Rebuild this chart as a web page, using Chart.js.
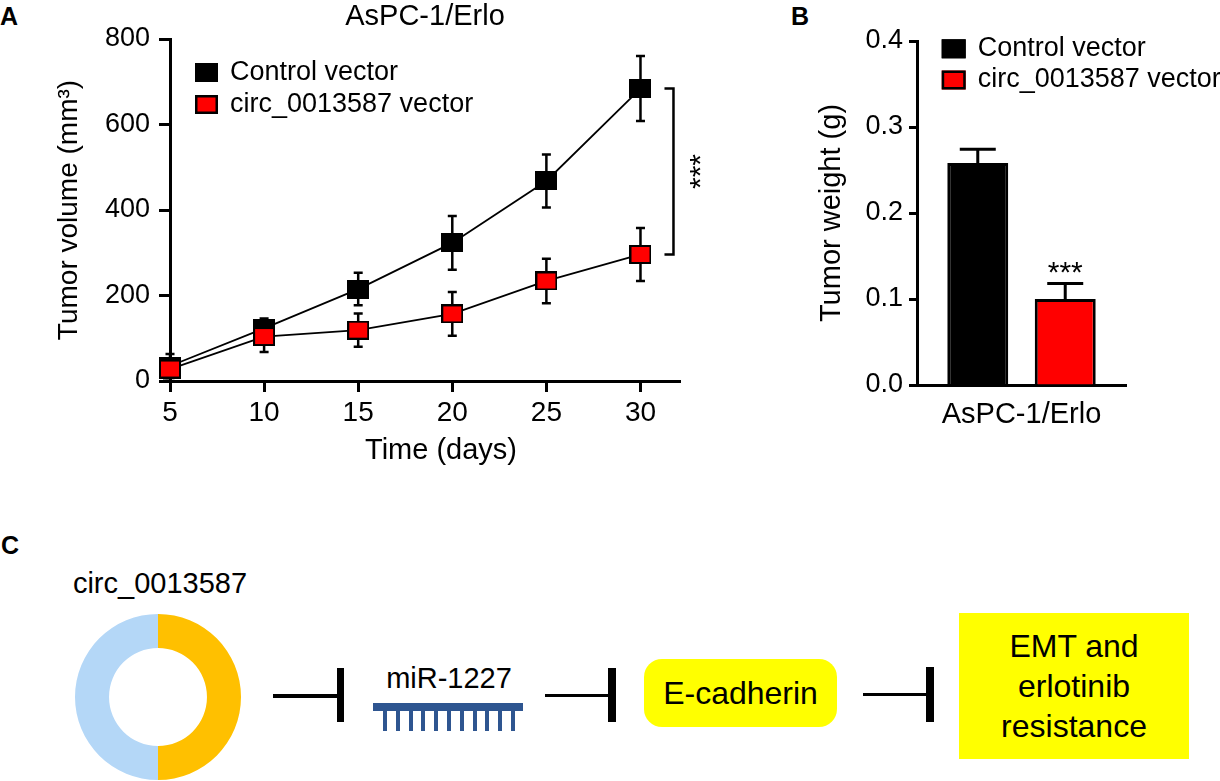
<!DOCTYPE html>
<html>
<head>
<meta charset="utf-8">
<title>circ_0013587 and erlotinib resistance</title>
<script src="https://cdn.jsdelivr.net/npm/chart.js@4.4.1/dist/chart.umd.min.js"></script>
<style>
  body { margin: 0; width: 1220px; height: 781px; background: #fff; position: relative; overflow: hidden;
         font-family: "Liberation Sans", Arial, Helvetica, sans-serif; color: #000; }
  canvas { position: absolute; }
  .panel { position: absolute; font-weight: bold; font-size: 25px; line-height: 25px; }
  .txt { position: absolute; transform: translate(-50%, -50%); line-height: 1; white-space: nowrap; }
  .blk { position: absolute; background: #000; }
  .tooth { position: absolute; background: #2e5590; width: 4px; height: 20px; top: 711px; }
  .box { position: absolute; background: #ffff00; display: flex; align-items: center; justify-content: center;
         text-align: center; font-size: 32px; }
</style>
</head>
<body>

<div class="panel" style="left:0px;top:4px">A</div>
<div class="panel" style="left:791px;top:4px">B</div>
<div class="panel" style="left:1px;top:533px">C</div>

<canvas id="volumeChart" width="720" height="480" style="left:0;top:0"></canvas>
<canvas id="weightChart" width="420" height="480" style="left:800px;top:0"></canvas>
<canvas id="circChart" width="166" height="166" style="left:75px;top:614px"></canvas>

<!-- Panel C pathway -->
<div class="txt" style="left:160px;top:583px;font-size:29px">circ_0013587</div>

<div class="blk" style="left:273px;top:694px;width:70px;height:3.5px"></div>
<div class="blk" style="left:337px;top:668px;width:7px;height:54px"></div>

<div class="txt" style="left:449px;top:678px;font-size:29px">miR-1227</div>
<div style="position:absolute;left:373px;top:703px;width:150px;height:8px;background:#2e5590"></div>
<div id="teeth"></div>

<div class="blk" style="left:545px;top:693.5px;width:70px;height:3.5px"></div>
<div class="blk" style="left:608px;top:668px;width:8px;height:54px"></div>

<div class="box" style="left:644px;top:659px;width:193px;height:68px;border-radius:18px;line-height:1">E-cadherin</div>

<div class="blk" style="left:863px;top:692.5px;width:70px;height:3.5px"></div>
<div class="blk" style="left:926px;top:667px;width:8px;height:55px"></div>

<div class="box" style="left:959px;top:613px;width:230px;height:146px;line-height:40px">EMT and<br>erlotinib<br>resistance</div>

<script>
// Panel A: tumor volume (mm3) by day
const days = [5, 10, 15, 20, 25, 30];
const volumeControl = [35, 123, 215, 323, 468, 684];
const volumeControlErr = [28, 23, 38, 63, 62, 76];
const volumeCirc = [28, 104, 119, 157, 234, 296];
const volumeCircErr = [20, 36, 39, 51, 52, 62];
const volumeTicks = [0, 200, 400, 600, 800];

// Panel B: tumor weight (g)
const weightGroups = ['AsPC-1/Erlo'];
const weightControl = [0.258];
const weightControlErr = [0.016];
const weightCirc = [0.100];
const weightCircErr = [0.018];
const weightTicks = [0, 0.1, 0.2, 0.3, 0.4];

// Panel C: circRNA ring, two halves
const circSegments = [50, 50];
const circColors = ['#ffc000', '#b4d7f7'];

const seriesNames = ['Control vector', 'circ_0013587 vector'];
const seriesColors = ['#000000', '#ff0000'];

const FONT = '"Liberation Sans", Arial, Helvetica, sans-serif';
Chart.defaults.font.family = FONT;
Chart.defaults.color = '#000';

// miRNA teeth
const teeth = document.getElementById('teeth');
for (let i = 0; i < 11; i++) {
    const t = document.createElement('div');
    t.className = 'tooth';
    t.style.left = (383 + i * 12.8) + 'px';
    teeth.appendChild(t);
}

// Rectangular marker used for the time-course points
function makeMarker(fill) {
    const c = document.createElement('canvas');
    c.width = 22;
    c.height = 19;
    const g = c.getContext('2d');
    g.fillStyle = fill;
    g.fillRect(0, 0, 22, 19);
    g.strokeStyle = '#000';
    g.lineWidth = 2;
    g.strokeRect(1, 1, 20, 17);
    return c;
}

function drawLegend(ctx, x, rows, w, h, textX) {
    ctx.save();
    ctx.font = '27px ' + FONT;
    ctx.textAlign = 'left';
    ctx.textBaseline = 'middle';
    rows.forEach((cy, i) => {
        ctx.fillStyle = seriesColors[i];
        ctx.fillRect(x, cy - h / 2, w, h);
        ctx.strokeStyle = '#000';
        ctx.lineWidth = 2.5;
        ctx.strokeRect(x + 1.25, cy - h / 2 + 1.25, w - 2.5, h - 2.5);
        ctx.fillStyle = '#000';
        ctx.fillText(seriesNames[i], textX, cy);
    });
    ctx.restore();
}

// Error bars for the line chart (drawn under the markers)
const volumeErrorBars = {
    id: 'volumeErrorBars',
    beforeDatasetsDraw(chart) {
        const { ctx, scales: { x, y } } = chart;
        ctx.save();
        ctx.strokeStyle = '#000';
        ctx.lineWidth = 2.5;
        chart.data.datasets.forEach(ds => {
            ds.data.forEach((p, i) => {
                const px = x.getPixelForValue(p.x);
                const top = y.getPixelForValue(p.y + ds.errors[i]);
                const bot = y.getPixelForValue(p.y - ds.errors[i]);
                ctx.beginPath();
                ctx.moveTo(px, top); ctx.lineTo(px, bot);
                ctx.moveTo(px - 4.5, top); ctx.lineTo(px + 4.5, top);
                ctx.moveTo(px - 4.5, bot); ctx.lineTo(px + 4.5, bot);
                ctx.stroke();
            });
        });
        ctx.restore();
    }
};

// Axis title, significance bracket and legend of panel A
const volumeDecor = {
    id: 'volumeDecor',
    afterDraw(chart) {
        const { ctx, chartArea, scales: { x, y } } = chart;
        const last = days.length - 1;
        ctx.save();
        ctx.fillStyle = '#000';
        ctx.fillRect(chartArea.left - 7, chartArea.bottom - 1.5, 7, 3);

        ctx.font = '29px ' + FONT;
        ctx.textAlign = 'center';
        ctx.textBaseline = 'middle';
        ctx.fillText('Time (days)', 441, 451);

        const bx = x.getPixelForValue(days[last]);
        const yt = y.getPixelForValue(volumeControl[last]);
        const yb = y.getPixelForValue(volumeCirc[last]);
        ctx.strokeStyle = '#000';
        ctx.lineWidth = 2.5;
        ctx.beginPath();
        ctx.moveTo(bx + 24, yt);
        ctx.lineTo(bx + 33, yt);
        ctx.lineTo(bx + 33, yb);
        ctx.lineTo(bx + 24, yb);
        ctx.stroke();

        ctx.translate(bx + 70, (yt + yb) / 2);
        ctx.rotate(-Math.PI / 2);
        ctx.font = '30px ' + FONT;
        ctx.textBaseline = 'alphabetic';
        ctx.fillText('***', 0, 0);
        ctx.restore();

        drawLegend(ctx, 195, [72.5, 104.5], 23, 19, 230);
    }
};

new Chart(document.getElementById('volumeChart'), {
    type: 'line',
    data: {
        datasets: [
            {
                label: seriesNames[0],
                data: days.map((d, i) => ({ x: d, y: volumeControl[i] })),
                errors: volumeControlErr,
                borderColor: '#000',
                borderWidth: 1.8,
                pointStyle: makeMarker(seriesColors[0]),
                pointRadius: 11,
                tension: 0,
                clip: false,
                order: 1
            },
            {
                label: seriesNames[1],
                data: days.map((d, i) => ({ x: d, y: volumeCirc[i] })),
                errors: volumeCircErr,
                borderColor: '#000',
                borderWidth: 1.8,
                pointStyle: makeMarker(seriesColors[1]),
                pointRadius: 11,
                tension: 0,
                clip: false,
                order: 0
            }
        ]
    },
    options: {
        responsive: false,
        animation: false,
        events: [],
        layout: { padding: { left: 0, right: 40, top: 0, bottom: 0 } },
        plugins: {
            legend: { display: false },
            tooltip: { enabled: false },
            title: {
                display: true,
                text: 'AsPC-1/Erlo',
                fullSize: false,
                font: { size: 29, weight: 'normal' },
                color: '#000',
                padding: { top: 0, bottom: 4.2 }
            }
        },
        scales: {
            x: {
                type: 'linear',
                min: 5,
                max: 32.1,
                afterBuildTicks: s => { s.ticks = days.map(v => ({ value: v })); },
                afterFit: s => { s.height = 99; },
                ticks: { font: { size: 28 }, color: '#000', padding: 4 },
                grid: { drawOnChartArea: false, tickLength: 11, tickWidth: 3, tickColor: '#000' },
                border: { width: 3, color: '#000' }
            },
            y: {
                min: 0,
                max: 800,
                afterBuildTicks: s => { s.ticks = volumeTicks.map(v => ({ value: v })); },
                afterFit: s => { s.width = 170; },
                ticks: { font: { size: 27 }, color: '#000', padding: 9 },
                grid: { drawOnChartArea: false, tickLength: 11, tickWidth: 3, tickColor: '#000' },
                border: { width: 3, color: '#000' },
                title: {
                    display: true,
                    text: 'Tumor volume (mm³)',
                    font: { size: 28 },
                    color: '#000',
                    padding: { top: 52, bottom: 0 }
                }
            }
        }
    },
    plugins: [volumeErrorBars, volumeDecor]
});

// Upward-only error bars, stars and legend for panel B
const weightDecor = {
    id: 'weightDecor',
    afterDatasetsDraw(chart) {
        const { ctx, scales: { y } } = chart;
        ctx.save();
        ctx.strokeStyle = '#000';
        ctx.lineWidth = 3;
        chart.data.datasets.forEach((ds, di) => {
            chart.getDatasetMeta(di).data.forEach((bar, i) => {
                const top = y.getPixelForValue(ds.data[i] + ds.errors[i]);
                ctx.beginPath();
                ctx.moveTo(bar.x, bar.y);
                ctx.lineTo(bar.x, top);
                ctx.moveTo(bar.x - 18, top);
                ctx.lineTo(bar.x + 18, top);
                ctx.stroke();
                if (ds.stars) {
                    ctx.fillStyle = '#000';
                    ctx.font = '30px ' + FONT;
                    ctx.textAlign = 'center';
                    ctx.textBaseline = 'alphabetic';
                    ctx.fillText(ds.stars, bar.x, top - 2);
                }
            });
        });
        ctx.restore();
        drawLegend(ctx, 141.7, [48.8, 80], 24, 19, 177.7);
    }
};

new Chart(document.getElementById('weightChart'), {
    type: 'bar',
    data: {
        labels: weightGroups,
        datasets: [
            {
                label: seriesNames[0],
                data: weightControl,
                errors: weightControlErr,
                backgroundColor: seriesColors[0],
                borderColor: '#000',
                borderWidth: 3,
                categoryPercentage: 0.837,
                barPercentage: 0.697
            },
            {
                label: seriesNames[1],
                data: weightCirc,
                errors: weightCircErr,
                stars: '***',
                backgroundColor: seriesColors[1],
                borderColor: '#000',
                borderWidth: 3,
                categoryPercentage: 0.837,
                barPercentage: 0.697
            }
        ]
    },
    options: {
        responsive: false,
        animation: false,
        events: [],
        layout: { padding: { left: 0, right: 94, top: 41, bottom: 0 } },
        plugins: {
            legend: { display: false },
            tooltip: { enabled: false }
        },
        scales: {
            x: {
                afterFit: s => { s.height = 95; },
                ticks: { font: { size: 29 }, color: '#000', padding: 13 },
                grid: { display: false, drawTicks: false },
                border: { width: 3, color: '#000' }
            },
            y: {
                min: 0,
                max: 0.4,
                afterBuildTicks: s => { s.ticks = weightTicks.map(v => ({ value: v })); },
                afterFit: s => { s.width = 117; },
                ticks: { font: { size: 27 }, color: '#000', padding: 6, callback: v => v.toFixed(1) },
                grid: { drawOnChartArea: false, tickLength: 8, tickWidth: 3, tickColor: '#000' },
                border: { width: 3, color: '#000' },
                title: {
                    display: true,
                    text: 'Tumor weight (g)',
                    font: { size: 29 },
                    color: '#000',
                    padding: { top: 14.6, bottom: 0 }
                }
            }
        }
    },
    plugins: [weightDecor]
});

// Panel C: circRNA ring
new Chart(document.getElementById('circChart'), {
    type: 'doughnut',
    data: {
        labels: ['right half', 'left half'],
        datasets: [{
            data: circSegments,
            backgroundColor: circColors,
            borderWidth: 0
        }]
    },
    options: {
        responsive: false,
        animation: false,
        events: [],
        cutout: '59%',
        plugins: { legend: { display: false }, tooltip: { enabled: false } }
    }
});
</script>
</body>
</html>
